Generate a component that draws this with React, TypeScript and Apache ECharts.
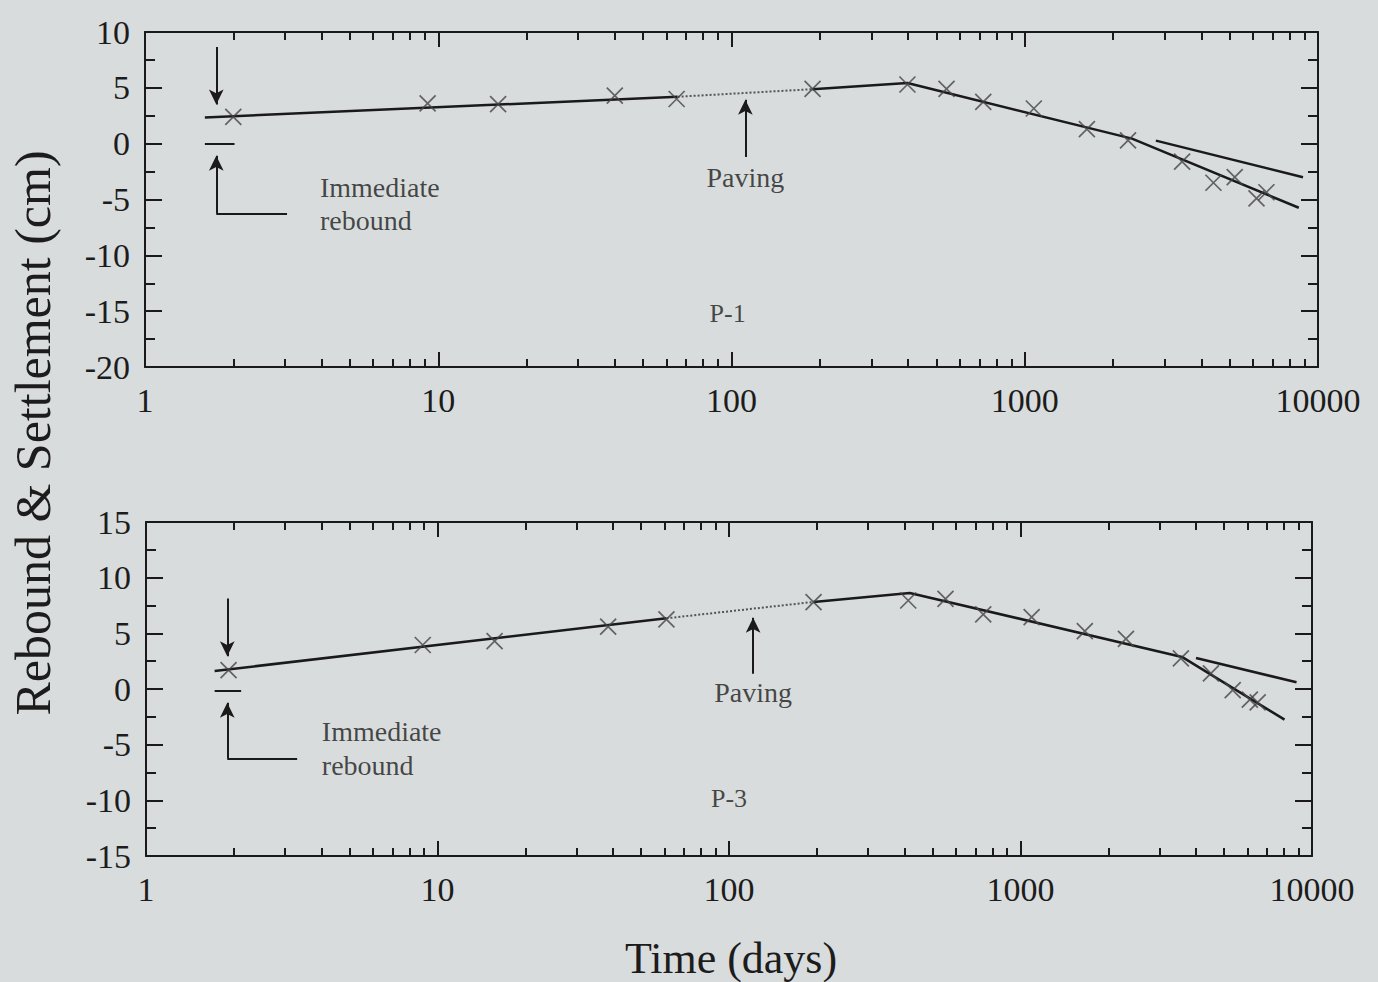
import React, { useEffect, useRef } from 'react';
import * as echarts from 'echarts';

// ---------- axes ----------
const xMajorTicks = [1, 10, 100, 1000, 10000];
const xMinorTicks = [
  2, 3, 4, 5, 6, 7, 8, 9,
  20, 30, 40, 50, 60, 70, 80, 90,
  200, 300, 400, 500, 600, 700, 800, 900,
  2000, 3000, 4000, 5000, 6000, 7000, 8000, 9000,
];
const yRangeP1 = [-20, 10];
const yRangeP3 = [-15, 15];

// ---------- P-1 measured points ----------
const p1Days = [2.0, 9.2, 16, 40, 65, 189, 398, 541, 722, 1074, 1629, 2250, 3440, 4400, 5200, 6170, 6670];
const p1Vals = [2.4, 3.6, 3.55, 4.3, 4.0, 4.9, 5.3, 4.9, 3.75, 3.15, 1.3, 0.3, -1.6, -3.5, -3.0, -4.9, -4.35];
// P-1 fitted lines
const p1FitA = [[1.6, 2.35], [65.5, 4.2]];
const p1Dotted = [[65.5, 4.2], [188.7, 4.88]];
const p1FitB = [[188.7, 4.88], [398, 5.43], [2321, 0.45], [8600, -5.74]];
const p1FitC = [[2800, 0.27], [8890, -3.0]];

// ---------- P-3 measured points ----------
const p3Days = [1.92, 8.9, 15.7, 38.5, 61, 195, 412, 553, 745, 1092, 1662, 2300, 3550, 4500, 5345, 6120, 6510];
const p3Vals = [1.7, 3.95, 4.3, 5.6, 6.25, 7.8, 7.95, 8.1, 6.7, 6.45, 5.2, 4.5, 2.75, 1.4, -0.1, -0.95, -1.2];
// P-3 fitted lines
const p3FitA = [[1.72, 1.62], [61, 6.35]];
const p3Dotted = [[61, 6.35], [195, 7.82]];
const p3FitB = [[195, 7.82], [417, 8.63], [3580, 2.88], [8050, -2.75]];
const p3FitC = [[4000, 2.79], [8850, 0.6]];

// ---------- annotation anchors (data coordinates) ----------
const p1Arrows = {
  down: [[1.75, 8.66], [1.75, 3.5]],
  zero: [[1.6, 0], [2.02, 0]],
  up: [[1.75, -6.26], [1.75, -1.08]],
  foot: [[1.75, -6.26], [3.05, -6.26]],
  paving: [[111.5, -1.2], [111.5, 3.93]],
};
const p3Arrows = {
  down: [[1.9, 8.12], [1.9, 2.95]],
  zero: [[1.72, -0.15], [2.12, -0.15]],
  up: [[1.9, -6.25], [1.9, -1.24]],
  foot: [[1.9, -6.25], [3.3, -6.25]],
  paving: [[121, 1.38], [121, 6.4]],
};
const p1Texts = [
  { name: 'Immediate', value: [3.95, -3.9], pos: 'right' },
  { name: 'rebound', value: [3.95, -6.86], pos: 'right' },
  { name: 'Paving', value: [111.5, -3.0], pos: 'inside' },
  { name: 'P-1', value: [97, -15.2], pos: 'inside' },
];
const p3Texts = [
  { name: 'Immediate', value: [4.01, -3.86], pos: 'right' },
  { name: 'rebound', value: [4.01, -6.86], pos: 'right' },
  { name: 'Paving', value: [121, -0.27], pos: 'inside' },
  { name: 'P-3', value: [100, -9.82], pos: 'inside' },
];

const FONT = "'Liberation Serif', 'Times New Roman', serif";
const INK = '#1a1a1a';
const TXT = '#1c1c1c';
const BG = '#d9dcdc';

function xAxesFor(g: number) {
  const base: any = {
    type: 'log', logBase: 10, min: 1, max: 10000, gridIndex: g,
    splitLine: { show: false }, minorTick: { show: false },
  };
  const major = { show: true, inside: true, length: 15, customValues: xMajorTicks, lineStyle: { color: INK, width: 2 } };
  const minor = { show: true, inside: true, length: 8, customValues: xMinorTicks, lineStyle: { color: INK, width: 2 } };
  const line = { show: true, onZero: false, lineStyle: { color: INK, width: 2 } };
  return [
    {
      ...base, position: 'bottom', axisLine: line, axisTick: major,
      axisLabel: {
        show: true, customValues: xMajorTicks,
        formatter: (v: number) => String(Math.round(v)),
        fontFamily: FONT, fontSize: 34, color: TXT, margin: 16,
      },
    },
    { ...base, position: 'bottom', axisLine: { show: false, onZero: false }, axisTick: minor, axisLabel: { show: false } },
    { ...base, position: 'top', axisLine: line, axisTick: major, axisLabel: { show: false } },
    { ...base, position: 'top', axisLine: { show: false, onZero: false }, axisTick: minor, axisLabel: { show: false } },
  ];
}

function yAxesFor(g: number, range: number[]) {
  const base: any = {
    type: 'value', gridIndex: g, min: range[0], max: range[1], interval: 5,
    splitLine: { show: false },
    axisLine: { show: true, onZero: false, lineStyle: { color: INK, width: 2 } },
    axisTick: { show: true, inside: true, length: 17, lineStyle: { color: INK, width: 2 } },
    minorTick: { show: true, splitNumber: 2, length: 10, lineStyle: { color: INK, width: 2 } },
  };
  return [
    { ...base, position: 'left', axisLabel: { fontFamily: FONT, fontSize: 34, color: TXT, margin: 15 } },
    { ...base, position: 'right', axisLabel: { show: false } },
  ];
}

function seg(a: number[][], symbolEnd: boolean) {
  return [
    { coord: a[0], symbol: 'none' },
    { coord: a[1], symbol: symbolEnd ? 'arrow' : 'none' },
  ];
}

function panelSeries(g: number, days: number[], vals: number[], fitA: number[][], dotted: number[][],
  fitB: number[][], fitC: number[][], arrows: any, texts: any[]) {
  const xi = g * 4;
  const yi = g * 2;
  const ax = { xAxisIndex: xi, yAxisIndex: yi };
  const solid = { color: INK, width: 2.5 };
  const pts = days.map((d, i) => [d, vals[i]]);
  return [
    { type: 'line', ...ax, data: fitA, showSymbol: false, silent: true, lineStyle: solid },
    {
      type: 'line', ...ax, data: dotted, showSymbol: false, silent: true,
      lineStyle: { color: '#555', width: 2, type: 'dotted' },
    },
    { type: 'line', ...ax, data: fitB, showSymbol: false, silent: true, lineStyle: solid },
    { type: 'line', ...ax, data: fitC, showSymbol: false, silent: true, lineStyle: solid },
    {
      type: 'scatter', ...ax, data: pts, silent: true,
      symbol: 'path://M0,0L10,10M0,10L10,0', symbolSize: 16,
      itemStyle: { color: 'transparent', borderColor: '#444', borderWidth: 1.7 },
      z: 3,
    },
    {
      type: 'line', ...ax, data: [], silent: true,
      markLine: {
        silent: true, animation: false,
        symbolSize: [11, 15],
        label: { show: false },
        lineStyle: { color: INK, width: 2, type: 'solid' },
        emphasis: { disabled: true },
        data: [
          seg(arrows.down, true),
          seg(arrows.zero, false),
          seg(arrows.up, true),
          seg(arrows.foot, false),
          seg(arrows.paving, true),
        ],
      },
    },
    {
      type: 'scatter', ...ax, silent: true, symbolSize: 0,
      data: texts.map((t) => ({
        name: t.name, value: t.value,
        label: {
          show: true, position: t.pos, distance: 0, formatter: '{b}',
          fontFamily: FONT, fontSize: t.name.startsWith('P-') ? 26 : 28, color: TXT,
        },
      })),
    },
  ];
}

export default function App() {
  const ref = useRef<HTMLDivElement>(null);
  useEffect(() => {
    if (!ref.current) return;
    const chart = echarts.init(ref.current, null, { renderer: 'svg' });
    chart.setOption({
      animation: false,
      backgroundColor: BG,
      grid: [
        { left: 145, top: 32, width: 1173, height: 335 },
        { left: 146, top: 522, width: 1166, height: 334 },
      ],
      xAxis: [...xAxesFor(0), ...xAxesFor(1)],
      yAxis: [...yAxesFor(0, yRangeP1), ...yAxesFor(1, yRangeP3)],
      series: [
        ...panelSeries(0, p1Days, p1Vals, p1FitA, p1Dotted, p1FitB, p1FitC, p1Arrows, p1Texts),
        ...panelSeries(1, p3Days, p3Vals, p3FitA, p3Dotted, p3FitB, p3FitC, p3Arrows, p3Texts),
      ],
      graphic: [
        {
          type: 'text', x: 33, y: 433, rotation: Math.PI / 2,
          style: {
            text: 'Rebound & Settlement (cm)', font: `50px ${FONT}`, fill: TXT,
            align: 'center', verticalAlign: 'middle',
          },
        },
        {
          type: 'text', x: 731, y: 958,
          style: {
            text: 'Time (days)', font: `44px ${FONT}`, fill: TXT,
            align: 'center', verticalAlign: 'middle',
          },
        },
      ],
    });
    return () => chart.dispose();
  }, []);
  return (
    <div
      ref={ref}
      style={{ position: 'fixed', left: 0, top: 0, width: 1378, height: 982, background: BG }}
    />
  );
}
